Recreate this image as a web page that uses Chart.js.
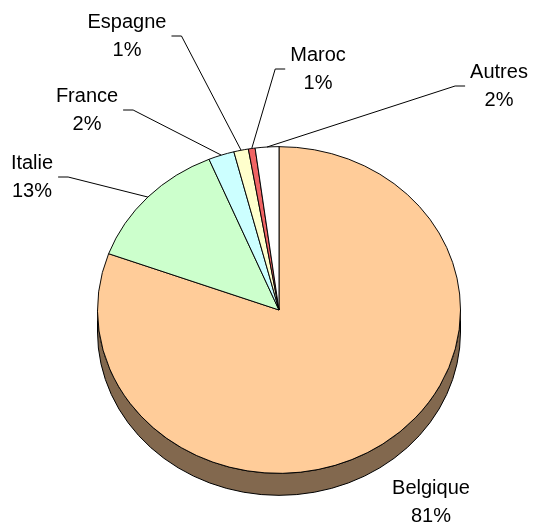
<!DOCTYPE html>
<html lang="fr">
<head>
    <meta charset="UTF-8">
    <title>Répartition par pays</title>
    <script src="https://cdn.jsdelivr.net/npm/chart.js"></script>
    <style>
        body { margin: 0; background: #ffffff; }
        #wrap { width: 535px; height: 526px; }
    </style>
</head>
<body>
    <div id="wrap"><canvas id="pieChart" width="535" height="526"></canvas></div>

    <script>
        // données
        const pays = ['Belgique', 'Italie', 'France', 'Espagne', 'Maroc', 'Autres'];
        const parts = [80.6, 13.1, 2.3, 1.3, 0.6, 2.1];
        const couleurs = ['#FFCC99', '#CCFFCC', '#CCFFFF', '#FFFFCC', '#F06464', '#FFFFFF'];

        // mise en page des étiquettes (centre du bloc de texte) et traits de rappel
        const etiquettes = [
            { x: 431, y: 502, trait: false },
            { x: 32, y: 177, trait: true },
            { x: 87, y: 110, trait: true },
            { x: 127, y: 36, trait: true },
            { x: 318, y: 69, trait: true },
            { x: 499, y: 86, trait: true }
        ];

        const aplatissement = 0.9;   // rapport axe vertical / horizontal
        const epaisseur = 22;        // profondeur du disque
        const police = '20px "Liberation Sans", Arial, sans-serif';

        function assombrir(hex) {
            const n = parseInt(hex.slice(1), 16);
            const r = Math.round(((n >> 16) & 255) * 0.51);
            const g = Math.round(((n >> 8) & 255) * 0.51);
            const b = Math.round((n & 255) * 0.51);
            return `rgb(${r},${g},${b})`;
        }

        const effet3D = {
            id: 'effet3D',
            beforeDatasetsDraw(chart) {
                const ctx = chart.ctx;
                const arcs = chart.getDatasetMeta(0).data;
                const cx = arcs[0].x, cy = arcs[0].y;
                const rx = arcs[0].outerRadius, ry = rx * aplatissement;

                // flanc visible (moitié basse)
                arcs.forEach((arc, i) => {
                    const a0 = Math.max(arc.startAngle, 0);
                    const a1 = Math.min(arc.endAngle, Math.PI);
                    if (a1 <= a0) return;
                    ctx.save();
                    ctx.beginPath();
                    ctx.ellipse(cx, cy, rx, ry, 0, a0, a1);
                    ctx.ellipse(cx, cy + epaisseur, rx, ry, 0, a1, a0, true);
                    ctx.closePath();
                    ctx.fillStyle = assombrir(couleurs[i]);
                    ctx.fill();
                    ctx.strokeStyle = '#000000';
                    ctx.lineWidth = 1;
                    ctx.stroke();
                    ctx.restore();
                });

                // écrase le disque en ellipse
                ctx.save();
                ctx.translate(cx, cy);
                ctx.scale(1, aplatissement);
                ctx.translate(-cx, -cy);
            },
            afterDatasetsDraw(chart) {
                chart.ctx.restore();
            },
            afterDraw(chart) {
                const ctx = chart.ctx;
                const arcs = chart.getDatasetMeta(0).data;
                const total = parts.reduce((a, b) => a + b, 0);
                ctx.save();
                ctx.font = police;
                ctx.fillStyle = '#000000';
                ctx.textAlign = 'center';
                ctx.textBaseline = 'middle';

                arcs.forEach((arc, i) => {
                    const lab = etiquettes[i];
                    const lignes = [pays[i], Math.round(parts[i] / total * 100) + '%'];
                    ctx.fillText(lignes[0], lab.x, lab.y - 14);
                    ctx.fillText(lignes[1], lab.x, lab.y + 14);

                    if (lab.trait) {
                        const mid = (arc.startAngle + arc.endAngle) / 2;
                        const px = arc.x + arc.outerRadius * Math.cos(mid);
                        const py = arc.y + arc.outerRadius * aplatissement * Math.sin(mid);
                        const larg = Math.max(...lignes.map(t => ctx.measureText(t).width));
                        const sens = lab.x < px ? 1 : -1;
                        const x0 = lab.x + sens * (larg / 2 + 5);
                        ctx.beginPath();
                        ctx.moveTo(x0, lab.y);
                        ctx.lineTo(x0 + sens * 10, lab.y);
                        ctx.lineTo(px, py);
                        ctx.strokeStyle = '#000000';
                        ctx.lineWidth = 1;
                        ctx.stroke();
                    }
                });
                ctx.restore();
            }
        };

        const ctx = document.getElementById('pieChart').getContext('2d');
        new Chart(ctx, {
            type: 'pie',
            data: {
                labels: pays,
                datasets: [{
                    data: parts,
                    backgroundColor: couleurs,
                    borderColor: '#000000',
                    borderWidth: 1,
                    clip: false
                }]
            },
            options: {
                responsive: false,
                animation: false,
                layout: {
                    padding: { left: 97, right: 74, top: 128, bottom: 34 }
                },
                plugins: {
                    legend: { display: false },
                    tooltip: { enabled: false }
                }
            },
            plugins: [effet3D]
        });
    </script>
</body>
</html>
